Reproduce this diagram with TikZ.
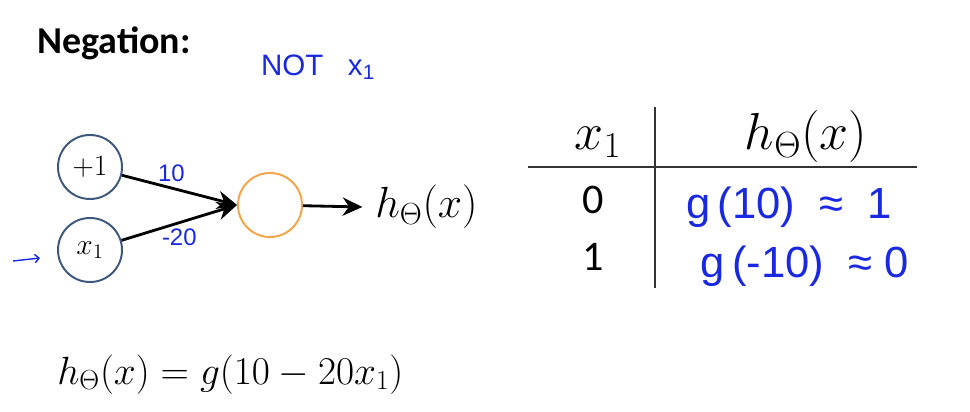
\RequirePackage{fix-cm}
\documentclass[tikz,border=0pt]{standalone}
\usepackage{amsmath,amssymb}
\usepackage{fontspec}
\newfontfamily\slidefont{Carlito}
\newfontfamily\handfont{Liberation Sans}
\usetikzlibrary{arrows.meta}
\definecolor{unitblue}{RGB}{62,88,125}
\definecolor{unitorange}{RGB}{244,164,72}
\definecolor{penblue}{RGB}{25,40,225}

\begin{document}
\begin{tikzpicture}[x=0.025cm,y=-0.025cm,
  unit/.style={circle,draw=unitblue,line width=1.4pt,minimum size=1.6cm,inner sep=0pt,font=\fontsize{21}{23}\selectfont},
  outunit/.style={unit,draw=unitorange},
  wire/.style={line width=2pt,-{Stealth[length=14pt,width=13pt]}},
  pen/.style={text=penblue,font=\handfont\fontsize{17}{19}\selectfont}]
\useasboundingbox (0,0) rectangle (970,412);
\node[anchor=base west,inner sep=0pt,font=\slidefont\bfseries\fontsize{27}{29}\selectfont] (title) at (37,54) {Negation:};
\node[pen,font=\handfont\fontsize{21}{23}\selectfont] (note) at (318,67) {NOT\ \ \ x\textsubscript{1}};
% network
\node[unit] (bias) at (90,167) {$+1$};
\node[unit] (xone) at (90,250) {$x_1$};
\node[outunit] (act) at (270,205) {};
\node[anchor=west,inner sep=0pt,font=\fontsize{31}{33}\selectfont] (hyp) at (375,207) {$h_\Theta(x)$};
\draw[wire] (bias) -- node[pen,above,pos=0.43] {10} (act.west);
\draw[wire] (xone) -- node[pen,below,pos=0.5] {-20} (act.west);
\draw[wire] (act) -- ([xshift=-9pt]hyp.west);
\coordinate (penfrom) at (13,261);
\coordinate (pento) at (40,258);
\draw[penblue,line width=1pt,-{Straight Barb[length=3pt]}] (penfrom) -- (pento);
% truth table
\coordinate (vtop) at (655,107);
\coordinate (vbot) at (655,288);
\coordinate (hleft) at (528,167);
\coordinate (hright) at (917,167);
\draw[line width=1.1pt,black!80] (vtop) -- (vbot) (hleft) -- (hright);
\node[anchor=base,font=\fontsize{37}{39}\selectfont] (headx) at (598,150) {$x_1$};
\node[anchor=base,font=\fontsize{37}{39}\selectfont] (headh) at (806,150) {$h_\Theta(x)$};
\node[font=\slidefont\fontsize{30}{32}\selectfont] (rowa) at (593,200) {0};
\node[font=\slidefont\fontsize{30}{32}\selectfont] (rowb) at (593,257) {1};
\node[pen,font=\handfont\fontsize{31}{33}\selectfont] (vala) at (789,207) {g\,(10)\ \ ≈\ \ 1};
\node[pen,font=\handfont\fontsize{31}{33}\selectfont] (valb) at (805,266) {g\,(-10)\ \ ≈\ 0};
% hypothesis
\node[anchor=base west,inner sep=0pt,font=\fontsize{28}{30}\selectfont] (eqn) at (57,384) {$h_\Theta(x) = g(10-20x_1)$};
\end{tikzpicture}
\end{document}
